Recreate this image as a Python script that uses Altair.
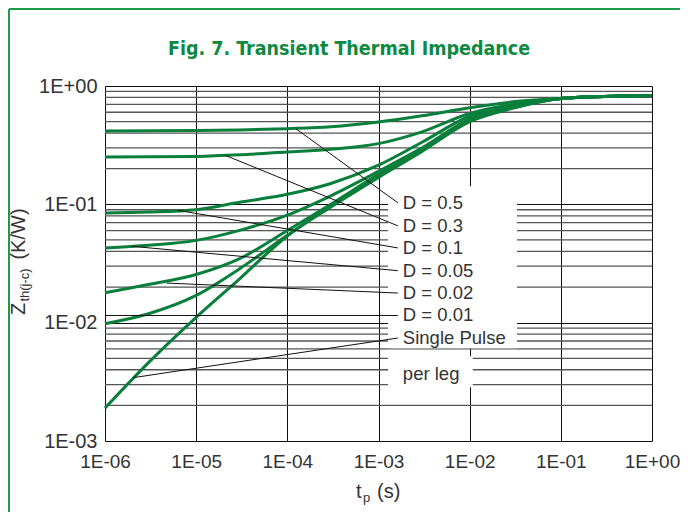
import altair as alt
import pandas as pd

# ---------------- data ----------------
t_points = [1e-6, 3e-6, 1e-5, 3e-5, 1e-4, 3e-4, 1e-3, 3e-3, 1e-2, 3e-2, 1e-1, 3e-1, 1.0]
series_names = ["D = 0.5", "D = 0.3", "D = 0.1", "D = 0.05", "D = 0.02", "D = 0.01", "Single Pulse"]
z_d050 = [0.417, 0.418, 0.420, 0.425, 0.436, 0.452, 0.496, 0.56, 0.655, 0.735, 0.785, 0.815, 0.83]
z_d030 = [0.251, 0.252, 0.254, 0.262, 0.277, 0.292, 0.326, 0.41, 0.585, 0.70, 0.785, 0.815, 0.83]
z_d010 = [0.0845, 0.086, 0.090, 0.104, 0.1215, 0.150, 0.214, 0.335, 0.555, 0.68, 0.785, 0.815, 0.83]
z_d005 = [0.0428, 0.045, 0.0496, 0.0603, 0.081, 0.118, 0.19, 0.30, 0.525, 0.665, 0.785, 0.815, 0.83]
z_d002 = [0.0179, 0.021, 0.0255, 0.0347, 0.060, 0.10, 0.179, 0.29, 0.512, 0.66, 0.785, 0.815, 0.83]
z_d001 = [0.0098, 0.0119, 0.017, 0.0286, 0.0547, 0.097, 0.173, 0.285, 0.505, 0.655, 0.785, 0.815, 0.83]
z_single = [0.0019, 0.0046, 0.0111, 0.0235, 0.054, 0.095, 0.169, 0.28, 0.50, 0.65, 0.785, 0.815, 0.83]
all_z = [z_d050, z_d030, z_d010, z_d005, z_d002, z_d001, z_single]

# leader lines: start on each curve, end at label
leader_t0 = [1.24e-4, 2.07e-5, 6.3e-6, 1.96e-6, 4.75e-6, 1e-6, 2.04e-6]
leader_z0 = [0.436, 0.26, 0.089, 0.0442, 0.0216, 0.0115, 0.00343]
leader_t1 = 1.63e-3
label_texts = series_names + ["per leg"]
label_z = [0.103, 0.0658, 0.0428, 0.0275, 0.0178, 0.0115, 0.00742, 0.00371]
label_t = 1.85e-3

# white label boxes (data coordinates)
box_t0 = [1.27e-3, 1.27e-3]
box_t1 = [0.033, 0.0108]
box_z0 = [0.142, 0.00519]
box_z1 = [0.00607, 0.00284]

x_decades = [1e-6, 1e-5, 1e-4, 1e-3, 1e-2, 1e-1, 1.0]
y_decades = [1e-3, 1e-2, 1e-1, 1.0]
minor_mult = [2, 3, 4, 5, 6, 7, 8, 9]

title_text = "Fig. 7. Transient Thermal Impedance"

# ---------------- build tables ----------------
rows = []
for name, zs in zip(series_names, all_z):
    for tv, zv in zip(t_points, zs):
        rows.append({"series": name, "t": tv, "z": zv})
curves = pd.DataFrame(rows)

leaders = pd.DataFrame({
    "t0": leader_t0, "z0": leader_z0,
    "t1": [leader_t1] * len(leader_t0), "z1": label_z[:len(leader_t0)],
})
labels = pd.DataFrame({"text": label_texts, "t": [label_t] * len(label_texts), "z": label_z})
boxes = pd.DataFrame({"t0": box_t0, "t1": box_t1, "z0": box_z0, "z1": box_z1})
minor = pd.DataFrame({"z": [m * d for d in y_decades[:-1] for m in minor_mult]})

W, H = 547, 355
FONT = "Liberation Sans"
TXT = "#333333"
GREEN = "#0a7f3c"

xs = alt.Scale(type="log", domain=[1e-6, 1.0], nice=False)
ys = alt.Scale(type="log", domain=[1e-3, 1.0], nice=False)
lab_expr = "'1E' + (datum.value >= 1 ? '+00' : '-0' + round(-log(datum.value)/LN10))"

x_axis = alt.Axis(values=x_decades, labelExpr=lab_expr, title=None, ticks=False,
                  grid=True, gridColor="#111111", gridWidth=1, domain=False,
                  labelFont=FONT, labelFontSize=19, labelColor=TXT, labelPadding=11,
                  labelFlush=False)
y_axis = alt.Axis(values=y_decades, labelExpr=lab_expr, title=None, ticks=False,
                  grid=True, gridColor="#111111", gridWidth=1, domain=False,
                  labelFont=FONT, labelFontSize=20, labelColor=TXT, labelPadding=8,
                  labelFlush=False)

base_x = alt.X("t:Q", scale=xs, axis=x_axis)
base_y = alt.Y("z:Q", scale=ys, axis=y_axis)

grid_minor = alt.Chart(minor).mark_rule(color="#555555", strokeWidth=1.3).encode(
    y=alt.Y("z:Q", scale=ys, axis=y_axis)
)

box_layer = alt.Chart(boxes).mark_rect(color="white").encode(
    x=alt.X("t0:Q", scale=xs, axis=x_axis), x2="t1:Q",
    y=alt.Y("z0:Q", scale=ys, axis=y_axis), y2="z1:Q",
)

curve_layer = alt.Chart(curves).mark_line(color=GREEN, strokeWidth=3, interpolate="monotone").encode(
    x=base_x, y=base_y, detail="series:N"
)

leader_layer = alt.Chart(leaders).mark_rule(color="#111111", strokeWidth=1).encode(
    x=alt.X("t0:Q", scale=xs, axis=x_axis), x2="t1:Q",
    y=alt.Y("z0:Q", scale=ys, axis=y_axis), y2="z1:Q",
)

label_layer = alt.Chart(labels).mark_text(
    align="left", baseline="middle", font=FONT, fontSize=18.5, color=TXT
).encode(x=base_x, y=base_y, text="text:N")

one = pd.DataFrame({"a": [0]})

def txt(s, x, y, size, angle=0, align="center", baseline="middle", font=FONT,
        color=TXT, weight="normal"):
    kw = dict(text=s, font=font, fontSize=size, color=color, align=align,
              baseline=baseline, fontWeight=weight)
    if angle:
        kw["angle"] = angle
    return alt.Chart(one).mark_text(**kw).encode(x=alt.value(x), y=alt.value(y))

title_layer = txt(title_text, 244, -31, 19.5, baseline="alphabetic",
                  font="Liberation Sans Narrow, DejaVu Sans Condensed, sans-serif",
                  color="#0b8a40", weight="bold")

ytitle = [
    txt("Z", -86, 223, 20, angle=270),
    txt("th(j-c)", -80, 199, 13, angle=270),
    txt("(K/W)", -86, 148, 20, angle=270),
]
xtitle = [
    txt("t", 251, 406, 20, align="left"),
    txt("p", 258, 412, 13, align="left"),
    txt("(s)", 272, 406, 20, align="left"),
]

frame_top = alt.Chart(one).mark_rule(color="#1e9a4c", strokeWidth=2).encode(
    x=alt.value(-96), x2=alt.value(600), y=alt.value(-77))
frame_left = alt.Chart(one).mark_rule(color="#1e9a4c", strokeWidth=2).encode(
    x=alt.value(-96), y=alt.value(-77), y2=alt.value(460))

chart = alt.layer(
    grid_minor, box_layer, curve_layer, leader_layer, label_layer,
    title_layer, *ytitle, *xtitle, frame_top, frame_left
).properties(
    width=W, height=H,
    autosize=alt.AutoSizeParams(type="none"),
    padding={"left": 97, "top": 78, "right": 28, "bottom": 71},
).configure_view(stroke="#111111", strokeWidth=1.5).configure(background="white")

chart.save("out.html", embed_options={"renderer": "svg", "actions": False})
